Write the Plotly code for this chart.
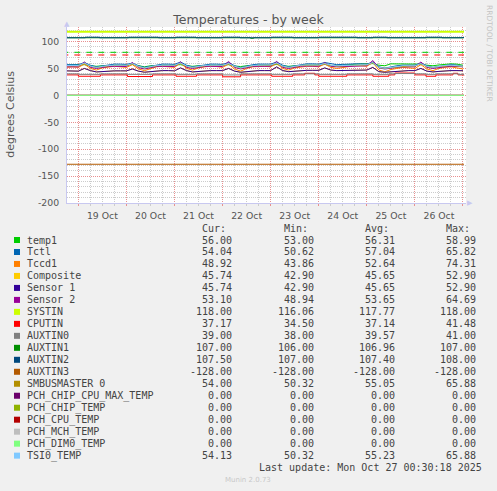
import pandas as pd
import plotly.graph_objects as go

# ---------------- data ----------------
# 3-hourly samples starting 2025-10-18 18:00 (67 samples)
grid_start = "2025-10-18 18:00"
grid_len = 67

temp1 = [56, 56,
         56, 57, 55, 54, 55, 56, 56, 56,
         56, 57.5, 55, 53, 55, 56, 56, 56,
         56, 57, 55, 54, 55, 56, 56, 56,
         56, 57, 54.5, 53.5, 55, 56, 56, 56,
         56, 57.5, 55, 54, 55, 56, 56.5, 56.5,
         56.5, 57.5, 55.5, 55, 56, 57, 58, 58.5,
         58.5, 58.99, 56, 55, 58.5, 58.5, 58.5, 58.5,
         58, 58, 56, 55, 56.5, 57.5, 58.5, 58,
         56]
tctl = [57, 57.5,
        57, 61, 56, 53, 55, 57, 58, 58,
        57.5, 60, 55, 52, 54, 57, 58, 58,
        57.5, 62, 56, 53, 55, 57, 58, 58,
        57.5, 61, 55, 51.5, 54, 57, 58, 58.5,
        58, 62, 56, 53, 55, 57.5, 58.5, 58.5,
        58, 61, 58.5, 57, 57.5, 58.5, 58.5, 58.5,
        58, 62, 53, 50.62, 53, 55, 56, 56,
        56, 60, 55, 52, 54, 56, 57, 56,
        54.04]
tccd1 = [52, 53,
         52, 58, 50, 47, 51, 53, 54, 53,
         52, 57, 49, 46, 50, 53, 54, 53,
         52, 60, 50, 47, 51, 53, 54, 53.5,
         52, 58, 49, 45, 50, 53, 54, 54,
         53, 59, 50, 47, 51, 53, 54, 54,
         53, 58, 52, 50, 52, 54, 55, 55,
         54, 61, 47, 43.86, 48, 50, 52, 51,
         50, 57, 49, 46, 50, 52, 53, 51,
         48.92]
composite = [45.5, 45.5,
             45, 50, 46, 43.5, 44.5, 45.5, 45.5, 45.5,
             45.5, 49, 45, 43, 44, 45.5, 46, 46,
             45.5, 51, 46, 43.5, 44.5, 45.5, 46, 46,
             46, 50, 45, 42.9, 44, 45.5, 46, 46,
             46, 52.9, 46, 44, 45, 46, 46.5, 46.5,
             46.5, 51, 47, 46, 46, 47, 47, 47,
             47, 52, 44, 42.9, 44, 45, 46, 46,
             46, 50, 45, 43.5, 44.5, 45.5, 46, 46,
             45.74]
sensor1 = [45.5, 45.5,
           45, 50, 46, 43.5, 44.5, 45.5, 45.5, 45.5,
           45.5, 49, 45, 43, 44, 45.5, 46, 46,
           45.5, 51, 46, 43.5, 44.5, 45.5, 46, 46,
           46, 50, 45, 42.9, 44, 45.5, 46, 46,
           46, 52.9, 46, 44, 45, 46, 46.5, 46.5,
           46.5, 51, 47, 46, 46, 47, 47, 47,
           47, 52, 44, 42.9, 44, 45, 46, 46,
           46, 50, 45, 43.5, 44.5, 45.5, 46, 46,
           45.74]
sensor2 = [53, 53.5,
           53, 62, 52, 50, 52, 53.5, 54, 54,
           53.5, 61, 51.5, 49, 51.5, 53.5, 54, 54,
           53.5, 62, 52, 50, 52, 53.5, 54, 54,
           53.5, 63, 52, 49, 51.5, 53.5, 54, 54.5,
           54, 63, 52, 50, 52, 54, 54.5, 54.5,
           54, 61, 54, 53, 53.5, 54.5, 55, 55,
           55, 64.69, 51, 48.94, 51, 52, 53, 53,
           53, 62, 52, 50, 52, 53, 54, 53.5,
           53.1]
smbus = [55, 55.5,
         55, 59.5, 54, 51.5, 53.5, 55, 55.5, 55.5,
         55.5, 58.5, 53.5, 50.5, 53, 55, 55.5, 55.5,
         55.5, 59.5, 54, 51.5, 53.5, 55, 55.5, 55.5,
         55.5, 58.5, 53.5, 50.5, 53, 55, 55.5, 56,
         56, 59.5, 54, 51.5, 53.5, 55.5, 56, 56,
         56, 58.5, 55.5, 54.5, 55, 56, 56.5, 56.5,
         56.5, 60.5, 51.5, 50.32, 51.5, 53.5, 54.5, 54.5,
         54.5, 58.5, 53.5, 51.5, 53.5, 55, 55.5, 54.5,
         54.0]
tsi0 = [55.5, 56,
        55.5, 60, 54.5, 52, 54, 55.5, 56, 56,
        56, 59, 54, 51, 53.5, 55.5, 56, 56,
        56, 60, 54.5, 52, 54, 55.5, 56, 56,
        56, 59, 54, 51, 53.5, 55.5, 56, 56.5,
        56.5, 60, 54.5, 52, 54, 56, 56.5, 56.5,
        56.5, 59, 56, 55, 55.5, 56.5, 57, 57,
        57, 61, 52, 50.32, 52, 54, 55, 55,
        55, 59, 54, 52, 54, 55.5, 56, 55,
        54.13]

# step series: change points
cpu_times = ["2025-10-18 16:00", "2025-10-19 00:00", "2025-10-19 11:00", "2025-10-20 00:30",
             "2025-10-20 13:00", "2025-10-21 00:45", "2025-10-21 11:00", "2025-10-22 00:00",
             "2025-10-22 09:00", "2025-10-23 00:30", "2025-10-23 11:00", "2025-10-23 17:00",
             "2025-10-23 22:00", "2025-10-24 00:00", "2025-10-24 14:00", "2025-10-25 03:00",
             "2025-10-25 11:00", "2025-10-25 14:00", "2025-10-26 00:00", "2025-10-26 05:30",
             "2025-10-26 10:30", "2025-10-26 19:00", "2025-10-26 21:30", "2025-10-27 00:30"]
cputin = [38, 35.5, 38, 35, 38, 35.5, 38, 34.5, 38, 35.5, 38, 41, 38, 35.5, 38, 35.5,
          38, 41.48, 38, 35.5, 38, 41, 38, 37.17]
auxtin0 = [40, 39, 40, 39, 40, 39, 40, 38, 40, 39, 40, 40, 40, 39, 40, 39,
           40, 40.5, 40, 39, 40, 40, 39, 39]

aux1_times = ["2025-10-18 16:00", "2025-10-22 14:00", "2025-10-22 15:30", "2025-10-27 00:30"]
auxtin1 = [107, 106, 107, 107]

aux2_times = ["2025-10-18 16:00", "2025-10-19 03:30", "2025-10-19 10:30", "2025-10-20 01:00",
              "2025-10-20 16:00", "2025-10-21 00:45", "2025-10-21 10:45", "2025-10-22 00:00",
              "2025-10-22 08:45", "2025-10-23 00:30", "2025-10-23 11:00", "2025-10-24 00:00",
              "2025-10-24 19:00", "2025-10-25 03:00", "2025-10-25 10:00", "2025-10-26 05:30",
              "2025-10-26 13:30", "2025-10-27 00:00", "2025-10-27 00:30"]
auxtin2 = [107, 108, 107, 108, 107, 108, 107, 108, 107, 108, 107, 108, 107, 108, 107,
           108, 107, 107.5, 107.5]

flat_times = ["2025-10-18 16:00", "2025-10-27 00:30"]
systin = [118, 118]
auxtin3 = [-128, -128]
pch_chip_cpu_max = [0, 0]
pch_chip = [0, 0]
pch_cpu = [0, 0]
pch_mch = [0, 0]
pch_dim0 = [0, 0]

hrule_values = [80, 75]
hrule_colors = ["#00cc00", "#ff0000"]

names = ["temp1", "Tctl", "Tccd1", "Composite", "Sensor 1", "Sensor 2", "SYSTIN", "CPUTIN",
         "AUXTIN0", "AUXTIN1", "AUXTIN2", "AUXTIN3", "SMBUSMASTER 0", "PCH_CHIP_CPU_MAX_TEMP",
         "PCH_CHIP_TEMP", "PCH_CPU_TEMP", "PCH_MCH_TEMP", "PCH_DIM0_TEMP", "TSI0_TEMP"]
colors = ["#00cc00", "#0066b3", "#ff8000", "#ffcc00", "#330099", "#990099", "#ccff00", "#ff0000",
          "#808080", "#008f00", "#00487d", "#b35a00", "#b38f00", "#6b006b", "#8fb300", "#b30000",
          "#bebebe", "#80ff80", "#80c9ff"]
cur_vals = [56.00, 54.04, 48.92, 45.74, 45.74, 53.10, 118.00, 37.17, 39.00, 107.00, 107.50,
            -128.00, 54.00, 0, 0, 0, 0, 0, 54.13]
min_vals = [53.00, 50.62, 43.86, 42.90, 42.90, 48.94, 116.06, 34.50, 38.00, 106.00, 107.00,
            -128.00, 50.32, 0, 0, 0, 0, 0, 50.32]
avg_vals = [56.31, 57.04, 52.64, 45.65, 45.65, 53.65, 117.77, 37.14, 39.57, 106.96, 107.40,
            -128.00, 55.05, 0, 0, 0, 0, 0, 55.23]
max_vals = [58.99, 65.82, 74.31, 52.90, 52.90, 64.69, 118.00, 41.48, 41.00, 107.00, 108.00,
            -128.00, 65.88, 0, 0, 0, 0, 0, 65.88]

ytick_vals = [-200, -150, -100, -50, 0, 50, 100]
ytick_text = ["-200", "-150", "-100", "-50", "0", "50", "100"]
col_headers = ["Cur:", "Min:", "Avg:", "Max:"]

title_text = "Temperatures - by week"
ylabel = "degrees Celsius"
last_update = "Last update: Mon Oct 27 00:30:18 2025"
footer = "Munin 2.0.73"
watermark = "RRDTOOL / TOBI OETIKER"

# ---------------- figure ----------------
W, H = 497, 491
L, R, T, B = 67, 31, 27, 288
PW, PH = W - L - R, H - T - B


def px(x):
    return (x - L) / PW


def py(y):
    return (H - B - y) / PH


grid_times = pd.date_range(grid_start, periods=grid_len, freq="3h")
grid_series = {"temp1": temp1, "Tctl": tctl, "Tccd1": tccd1, "Composite": composite,
               "Sensor 1": sensor1, "Sensor 2": sensor2, "SMBUSMASTER 0": smbus,
               "TSI0_TEMP": tsi0}
step_series = {"SYSTIN": (flat_times, systin), "CPUTIN": (cpu_times, cputin),
               "AUXTIN0": (cpu_times, auxtin0), "AUXTIN1": (aux1_times, auxtin1),
               "AUXTIN2": (aux2_times, auxtin2), "AUXTIN3": (flat_times, auxtin3),
               "PCH_CHIP_CPU_MAX_TEMP": (flat_times, pch_chip_cpu_max),
               "PCH_CHIP_TEMP": (flat_times, pch_chip), "PCH_CPU_TEMP": (flat_times, pch_cpu),
               "PCH_MCH_TEMP": (flat_times, pch_mch), "PCH_DIM0_TEMP": (flat_times, pch_dim0)}

fig = go.Figure()

for v, c in zip(hrule_values, hrule_colors):
    fig.add_trace(go.Scatter(x=[flat_times[0], flat_times[-1]], y=[v, v], mode="lines",
                             line=dict(color=c, width=1, dash="6px,6px"),
                             hoverinfo="skip", showlegend=False))

for name, color in zip(names, colors):
    if name in grid_series:
        xs, ys, shape = grid_times, grid_series[name], "linear"
    else:
        xs, ys = step_series[name]
        shape = "hv"
    width = 2 if name == "SYSTIN" else 1
    fig.add_trace(go.Scatter(x=xs, y=ys, mode="lines", name=name,
                             line=dict(color=color, width=width, shape=shape),
                             hoverinfo="skip", showlegend=False))

TXT = "#555555"
MAJ = "#e89090"
MIN = "#cccccc"
AX = "#c8c8f0"

fig.update_layout(
    width=W, height=H,
    margin=dict(l=L, r=R, t=T, b=B),
    paper_bgcolor="#f0f0f0", plot_bgcolor="#ffffff",
    showlegend=False,
    title=dict(text=title_text, x=248.5 / W, xref="container", xanchor="center",
               y=1 - 19.5 / H, yref="container", yanchor="middle",
               font=dict(family="DejaVu Sans", size=12.5, color=TXT)),
    xaxis=dict(type="date", range=["2025-10-18 18:20", "2025-10-27 01:30"],
               tick0="2025-10-19", dtick=86400000, tickformat="%d %b",
               ticklabelmode="period",
               showgrid=True, gridcolor=MAJ, griddash="1px,1px", gridwidth=1,
               ticks="outside", ticklen=2, tickcolor=MAJ,
               minor=dict(tick0="2025-10-19", dtick=21600000, showgrid=True, gridcolor=MIN,
                          griddash="1px,1px", ticks="outside", ticklen=2, tickcolor=MIN),
               showline=True, linecolor=AX, linewidth=1, zeroline=False,
               tickfont=dict(family="DejaVu Sans", size=9.3, color=TXT),
               ticklabelstandoff=2),
    yaxis=dict(range=[-200, 127], tickmode="array", tickvals=ytick_vals, ticktext=ytick_text,
               showgrid=True, gridcolor=MAJ, griddash="1px,1px", gridwidth=1,
               minor=dict(tick0=0, dtick=10, showgrid=True, gridcolor=MIN, griddash="1px,1px"),
               showline=True, linecolor=AX, linewidth=1, zeroline=False, ticks="",
               tickfont=dict(family="DejaVu Sans", size=9.3, color=TXT),
               ticklabelstandoff=5),
)

ann = []
ann.append(dict(text=ylabel, x=px(10.7), y=py(114), xref="paper", yref="paper",
                textangle=-90, showarrow=False, xanchor="center", yanchor="middle",
                font=dict(family="DejaVu Sans", size=11, color=TXT)))
ann.append(dict(text=watermark, x=px(490), y=py(53), xref="paper", yref="paper",
                textangle=90, showarrow=False, xanchor="center", yanchor="middle",
                font=dict(family="DejaVu Sans", size=7.5, color="#c4c4c4")))
ann.append(dict(text="▲", x=px(67), y=py(23.5), xref="paper", yref="paper", showarrow=False,
                xanchor="center", yanchor="middle", font=dict(family="DejaVu Sans", size=7, color=AX)))
ann.append(dict(text="▶", x=px(470), y=py(203), xref="paper", yref="paper", showarrow=False,
                xanchor="center", yanchor="middle", font=dict(family="DejaVu Sans", size=7, color=AX)))

MONO = dict(family="DejaVu Sans Mono", size=10, color="#444444")
col_right = [233, 315, 396, 477]
for h, cr in zip(col_headers, col_right):
    ann.append(dict(text=h, x=px(cr - 5), y=py(228.3), xref="paper", yref="paper",
                    showarrow=False, xanchor="right", yanchor="middle", font=MONO))

shapes = []
for i, (name, color) in enumerate(zip(names, colors)):
    yc = 240 + 11.98 * i
    shapes.append(dict(type="rect", xref="paper", yref="paper", x0=px(14), x1=px(20),
                       y0=py(yc + 3), y1=py(yc - 3), fillcolor=color, line=dict(width=0)))
    ann.append(dict(text=name, x=px(25), y=py(yc), xref="paper", yref="paper",
                    showarrow=False, xanchor="left", yanchor="middle", font=MONO))
    for vals, cr in zip([cur_vals, min_vals, avg_vals, max_vals], col_right):
        ann.append(dict(text=f"{vals[i]:.2f}", x=px(cr + 1), y=py(yc), xref="paper",
                        yref="paper", showarrow=False, xanchor="right", yanchor="middle",
                        font=MONO))

ann.append(dict(text=last_update, x=px(484), y=py(467.7), xref="paper", yref="paper",
                showarrow=False, xanchor="right", yanchor="middle", font=MONO))
ann.append(dict(text=footer, x=px(248), y=py(480), xref="paper", yref="paper",
                showarrow=False, xanchor="center", yanchor="middle",
                font=dict(family="DejaVu Sans", size=7, color="#c8c8c8")))

fig.update_layout(annotations=ann, shapes=shapes)

fig.write_html("out.html", config={"displayModeBar": False},
               post_script="document.body.style.margin='0';"
                           "document.body.style.background='#f0f0f0';")
